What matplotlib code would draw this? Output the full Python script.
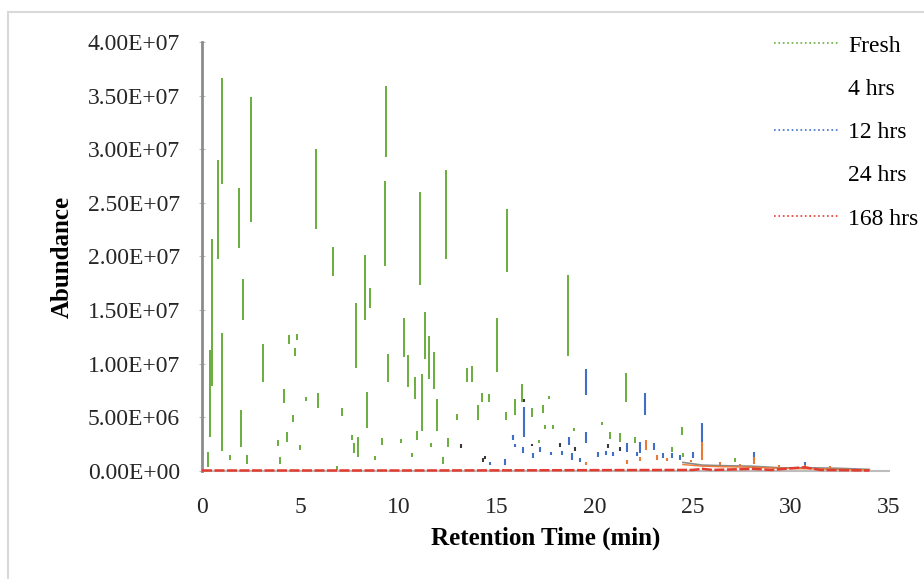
import matplotlib
matplotlib.use("Agg")
import matplotlib.pyplot as plt
import numpy as np
from matplotlib.lines import Line2D
from matplotlib.patches import Rectangle
from matplotlib.ticker import FuncFormatter, MultipleLocator

plt.rcParams["font.family"] = ["Liberation Serif", "DejaVu Serif"]

# peak segments: retention time (min), bottom / top (x 1e6)
FRESH_TIME = [0.31, 0.41, 0.51, 0.82, 1.0, 1.02, 1.43, 1.88, 1.98, 2.09, 2.29, 2.5, 3.1, 3.87,
              3.97, 4.18, 4.33, 4.43, 4.64, 4.74, 4.84, 4.99, 5.3, 5.8, 5.9, 6.67, 6.88, 7.13,
              7.64, 7.74, 7.84, 7.95, 8.28, 8.4, 8.56, 8.81, 9.17, 9.32, 9.37, 9.47, 10.14,
              10.29, 10.49, 10.7, 10.85, 10.95, 11.1, 11.2, 11.36, 11.56, 11.67, 11.82, 11.97,
              12.28, 12.43, 12.53, 12.99, 13.5, 13.75, 14.06, 14.26, 14.62, 15.03, 15.49,
              15.54, 15.95, 16.3, 16.8, 17.17, 17.37, 17.47, 17.68, 17.88, 18.64, 18.95, 20.4,
              20.8, 21.3, 21.6, 22.06, 23.94, 24.45, 24.5, 27.15]
FRESH_LOW = [0.4, 3.2, 7.9, 19.8, 1.9, 26.8, 1.0, 20.8, 2.2, 14.1, 0.7, 23.2, 8.3, 2.3,
             0.7, 6.3, 2.7, 11.8, 4.6, 10.7, 12.2, 2.0, 6.5, 22.6, 5.9, 18.2, 0.1, 5.1,
             2.9, 1.7, 9.6, 1.3, 14.1, 4.0, 15.2, 1.0, 2.4, 19.1, 29.3, 8.3, 2.6,
             10.6, 7.8, 1.3, 6.7, 2.9, 17.3, 3.7, 10.4, 8.6, 2.2, 7.6, 3.7,
             0.7, 19.8, 2.2, 4.8, 8.3, 8.3, 4.8, 6.4, 6.4, 9.2, 4.8,
             18.6, 5.2, 6.4, 5.0, 2.6, 5.4, 3.9, 6.7, 3.9, 10.7, 3.7, 4.3,
             3.0, 2.7, 6.4, 2.6, 1.8, 3.4, 1.3, 0.8]
FRESH_HIGH = [1.8, 11.3, 21.6, 29.0, 12.9, 36.6, 1.5, 26.4, 5.7, 17.9, 1.5, 34.9, 11.8, 2.9,
              1.3, 7.6, 3.6, 12.7, 5.2, 11.5, 12.8, 2.4, 6.9, 30.0, 7.3, 20.9, 0.5, 5.9,
              3.4, 2.6, 15.7, 3.2, 20.1, 7.4, 17.1, 1.4, 3.1, 27.0, 35.9, 10.9, 3.0,
              14.3, 10.8, 1.7, 8.8, 3.7, 26.0, 9.0, 14.8, 12.6, 2.6, 11.1, 6.7,
              1.3, 28.1, 3.1, 5.3, 9.6, 9.8, 6.2, 7.3, 7.2, 14.3, 5.5,
              24.4, 6.7, 8.1, 5.9, 2.9, 6.2, 4.3, 7.0, 4.3, 18.3, 4.0, 4.6,
              3.6, 3.5, 9.1, 3.2, 2.2, 4.1, 1.7, 1.2]

H4_TIME = [13.2, 14.3, 14.4, 15.84, 16.4, 16.8, 18.24, 19.0, 20.7, 21.3]
H4_LOW = [2.1, 0.8, 1.1, 3.1, 6.4, 2.3, 2.2, 1.9, 2.1, 1.9]
H4_HIGH = [2.5, 1.2, 1.4, 3.4, 6.7, 2.5, 2.6, 2.2, 2.5, 2.2]

H12_TIME = [14.67, 15.44, 15.84, 15.95, 16.35, 16.4, 16.86, 17.22, 17.78, 18.34, 18.7, 18.85,
            19.26, 19.56, 19.56, 20.17, 20.58, 20.94, 21.65, 22.16, 22.31, 22.57, 23.03,
            23.48, 23.94, 24.35, 25.0, 25.47, 28.12, 30.72]
H12_LOW = [0.6, 0.6, 2.9, 2.2, 1.7, 3.2, 1.2, 1.8, 1.5, 1.5, 2.4, 1.0,
           0.8, 2.6, 7.1, 1.3, 1.5, 1.4, 1.8, 1.4, 1.7, 5.2, 2.0,
           1.2, 1.2, 1.0, 1.2, 2.7, 1.0, 0.4]
H12_HIGH = [0.8, 1.1, 3.4, 2.5, 2.2, 6.0, 1.7, 2.2, 1.8, 1.9, 3.2, 1.7,
            1.2, 3.6, 9.5, 1.8, 1.9, 1.8, 2.6, 1.8, 2.7, 7.3, 2.6,
            1.7, 1.7, 1.5, 1.8, 4.5, 1.8, 0.8]

H24_TIME = [19.56, 21.65, 22.3, 22.62, 23.2, 23.7, 24.9, 25.47, 26.4, 27.4, 28.12, 29.4,
            30.72, 32.0]
H24_LOW = [0.6, 0.7, 0.9, 2.0, 1.0, 0.9, 0.8, 1.0, 0.6, 0.5, 0.7, 0.4, 0.2, 0.3]
H24_HIGH = [0.8, 1.0, 1.3, 2.9, 1.5, 1.2, 1.0, 2.7, 0.8, 0.7, 1.3, 0.6, 0.6, 0.5]

# slow baseline drift at the end of the runs (x 1e6)
TAIL_TIME = [24.5, 25.5, 26.5, 28.0, 29.5, 31.0, 32.5, 34.0]
H4_TAIL = [0.8, 0.55, 0.5, 0.45, 0.3, 0.3, 0.25, 0.15]
H24_TAIL = [0.6, 0.45, 0.4, 0.35, 0.25, 0.2, 0.15, 0.1]

H168_TIME = [0, 5, 10, 15, 20, 25, 25.5, 26, 28.1, 29, 30.7, 31.5, 34]
H168_VAL = [0.05, 0.05, 0.05, 0.06, 0.08, 0.1, 0.2, 0.1, 0.2, 0.1, 0.35, 0.1, 0.05]

SERIES = ["Fresh", "4 hrs", "12 hrs", "24 hrs", "168 hrs"]
COLORS = ["#6aad3d", "#3a3a3a", "#3f6fc6", "#ea7a35", "#e23b30"]

X_TICKS = [0, 5, 10, 15, 20, 25, 30, 35]
Y_MAX = 4.0e7
SCALE = 1e6


def sci(v, pos):
    return f"{v:.2E}"


fig = plt.figure(figsize=(9.24, 5.79), dpi=100)
ax = fig.add_axes([0.2186, 0.1865, 0.7435, 0.741])

ax.vlines(FRESH_TIME, np.array(FRESH_LOW) * SCALE, np.array(FRESH_HIGH) * SCALE,
          color=COLORS[0], lw=1.4, zorder=2)
ax.vlines(H4_TIME, np.array(H4_LOW) * SCALE, np.array(H4_HIGH) * SCALE,
          color=COLORS[1], lw=1.5, zorder=3)
ax.plot(TAIL_TIME, np.array(H4_TAIL) * SCALE, color="#8a8a8a", lw=1.2, zorder=3)
ax.vlines(H12_TIME, np.array(H12_LOW) * SCALE, np.array(H12_HIGH) * SCALE,
          color=COLORS[2], lw=1.5, zorder=4)
ax.vlines(H24_TIME, np.array(H24_LOW) * SCALE, np.array(H24_HIGH) * SCALE,
          color=COLORS[3], lw=1.5, zorder=5)
ax.plot(TAIL_TIME, np.array(H24_TAIL) * SCALE, color=COLORS[3], lw=1.0, zorder=5)
ax.plot(H168_TIME, np.array(H168_VAL) * SCALE, color=COLORS[4], lw=1.8,
        ls=(0, (4, 1)), zorder=6, clip_on=False)

ax.set_xlim(0, 35)
ax.set_ylim(0, Y_MAX)
ax.yaxis.set_major_locator(MultipleLocator(5e6))
ax.yaxis.set_major_formatter(FuncFormatter(sci))
ax.set_xticks(X_TICKS)

for side in ["top", "right"]:
    ax.spines[side].set_visible(False)
ax.spines["left"].set_color("#8c8c8c")
ax.spines["left"].set_linewidth(2.0)
ax.spines["bottom"].set_color("#bdbdbd")
ax.spines["bottom"].set_linewidth(1.5)
ax.spines["bottom"].set_zorder(1)

ax.tick_params(axis="y", length=4, width=0.8, color="#bdbdbd", direction="inout",
               pad=14, labelsize=17, labelcolor="#262626")
ax.tick_params(axis="x", length=0, pad=19, labelsize=17, labelcolor="#262626")

ax.set_xlabel("Retention Time (min)", fontsize=18, fontweight="bold", labelpad=6)
ax.set_ylabel("Abundance", fontsize=18, fontweight="bold", labelpad=10)

handles = []
for name, col in zip(SERIES, COLORS):
    if name in ("4 hrs", "24 hrs"):
        handles.append(Line2D([], [], color="none", lw=1.0, label=name))
    else:
        handles.append(Line2D([], [], color=col, lw=1.2, ls=":", label=name))
fig.legend(handles=handles, loc="upper left", bbox_to_anchor=(774 / 924, 1 - 35 / 579),
           frameon=False, fontsize=17, handlelength=2.7, handletextpad=0.45,
           labelspacing=0.92, borderpad=0, borderaxespad=0)

fig.patches.append(Rectangle((8 / 924, -0.1), 1.2, 0.1 + 1 - 12 / 579,
                             transform=fig.transFigure, fill=False,
                             edgecolor="#d9d9d9", lw=1.5, zorder=0))

fig.savefig("out.png", dpi=100)
